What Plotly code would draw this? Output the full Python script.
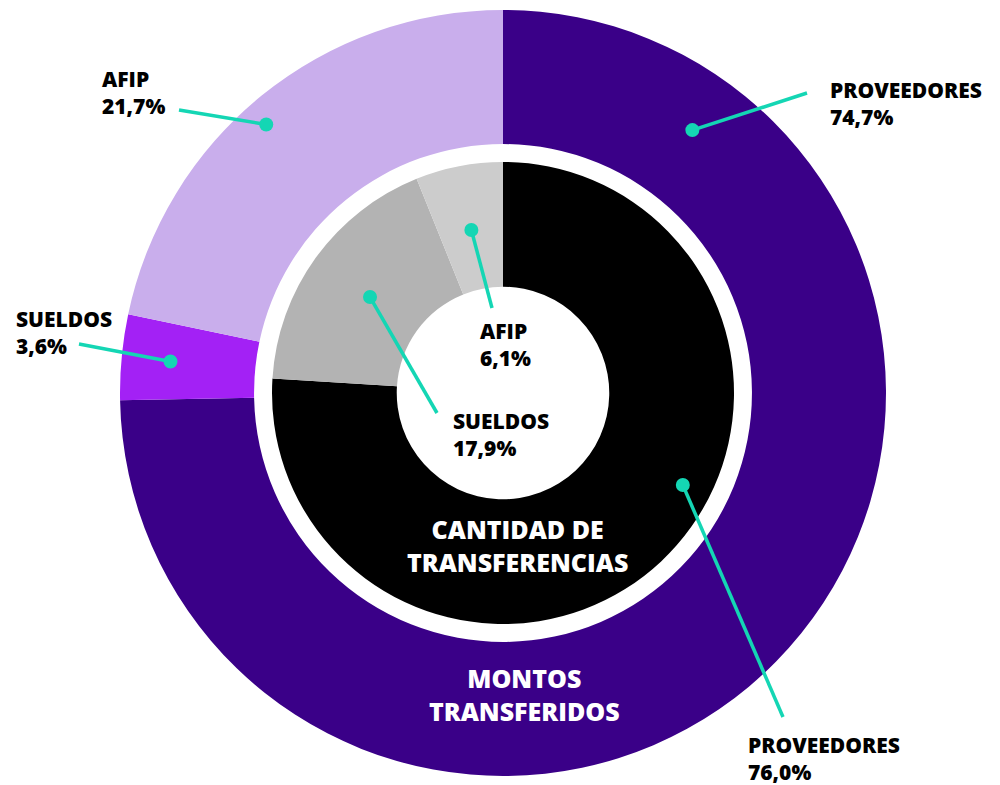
import math
import plotly.graph_objects as go

# data
categorias = ["PROVEEDORES", "SUELDOS", "AFIP"]
montos = [74.7, 3.6, 21.7]          # anillo exterior: montos transferidos
cantidad = [76.0, 17.9, 6.1]        # anillo interior: cantidad de transferencias

colores_montos = ["#3a0088", "#a321f5", "#c9aeec"]
colores_cantidad = ["#000000", "#b3b3b3", "#cccccc"]
teal = "#14d6b4"

# the page body adds an 8px margin, so the figure is drawn 8px smaller
OFF = 8
W, H = 1000 - OFF, 785 - OFF
cx, cy = 503, 393
r_out, r_in = 383, 231
hole_out, hole_in = 0.65, 0.46


def dom(r):
    return dict(x=[(cx - r - OFF) / W, (cx + r - OFF) / W],
                y=[(785 - cy - r) / H, (785 - cy + r) / H])


fig = go.Figure()
fig.add_trace(go.Pie(
    labels=categorias, values=montos, sort=False, direction="clockwise",
    hole=hole_out, marker=dict(colors=colores_montos, line=dict(width=0)),
    textinfo="none", hoverinfo="label+percent", domain=dom(r_out),
))
fig.add_trace(go.Pie(
    labels=categorias, values=cantidad, sort=False, direction="clockwise",
    hole=hole_in, marker=dict(colors=colores_cantidad, line=dict(width=0)),
    textinfo="none", hoverinfo="label+percent", domain=dom(r_in),
))


def punto(valores, i, frac, radio):
    total = sum(valores)
    start = sum(valores[:i]) / total * 360
    ang = math.radians(start + frac * valores[i] / total * 360)
    return cx + radio * math.sin(ang), cy - radio * math.cos(ang)


def fmt(v):
    return f"{v:.1f}".replace(".", ",") + "%"


# (serie, indice, fraccion en el sector, radio del punto, fin de linea, texto xy)
guias = [
    (montos, 0, 0.133, 324, (807, 93), (828, 103)),
    (montos, 1, 0.5, 334, (79, 344), (14, 332)),
    (montos, 2, 0.47, 358, (179, 110), (100, 92)),
    (cantidad, 0, 0.428, 202, (783, 717), (746, 758)),
    (cantidad, 1, 0.5, 164, (437, 413), (451, 434)),
    (cantidad, 2, 0.5, 166, (492, 308), (478, 344)),
]

font = dict(family="Open Sans, Inter, sans-serif", size=21, color="#000000", weight=800)
for vals, i, frac, rad, fin, txt in guias:
    px, py = punto(vals, i, frac, rad)
    fig.add_shape(type="line", xref="x", yref="y", x0=px, y0=py, x1=fin[0], y1=fin[1],
                  line=dict(color=teal, width=3.5))
    fig.add_shape(type="circle", xref="x", yref="y", x0=px - 7, y0=py - 7,
                  x1=px + 7, y1=py + 7, fillcolor=teal, line=dict(width=0))
    fig.add_annotation(x=txt[0], y=txt[1], xref="x", yref="y", xanchor="left",
                       yanchor="middle", align="left", showarrow=False,
                       text=f"{categorias[i]}<br>{fmt(vals[i])}", font=font)

titulo = dict(family="Open Sans, Inter, sans-serif", size=25, color="#ffffff", weight=800)
fig.add_annotation(x=517, y=545, xref="x", yref="y", showarrow=False,
                   text="CANTIDAD DE<br>TRANSFERENCIAS", font=titulo)
fig.add_annotation(x=524, y=694, xref="x", yref="y", showarrow=False,
                   text="MONTOS<br>TRANSFERIDOS", font=titulo)

fig.update_layout(
    width=W, height=H, margin=dict(l=0, r=0, t=0, b=0),
    paper_bgcolor="#ffffff", plot_bgcolor="rgba(0,0,0,0)", showlegend=False,
    xaxis=dict(range=[OFF, 1000], visible=False, fixedrange=True),
    yaxis=dict(range=[785, OFF], visible=False, fixedrange=True),
)

fig.write_html("out.html")
